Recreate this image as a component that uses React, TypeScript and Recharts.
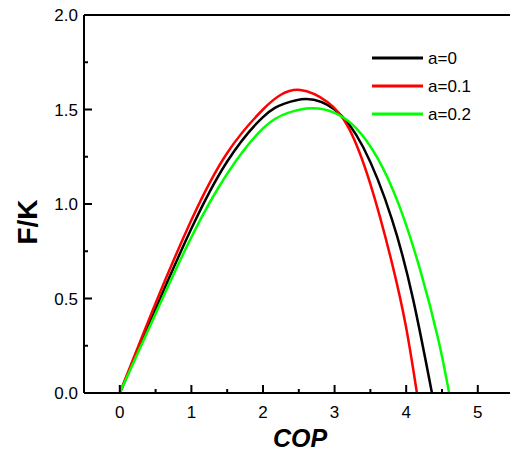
import React from "react";
import { LineChart, Line, XAxis, YAxis, ReferenceLine } from "recharts";

const copA0 = [0, 0.5, 1.0, 1.5, 2.0, 2.3, 2.61, 3.0, 3.4, 3.8, 4.1, 4.36];
const fkA0 = [0, 0.445, 0.87, 1.225, 1.46, 1.531, 1.556, 1.5, 1.3, 0.92, 0.49, 0];

const copA01 = [0, 0.5, 1.0, 1.5, 2.0, 2.25, 2.52, 2.9, 3.2, 3.5, 3.8, 4.0, 4.15];
const fkA01 = [0, 0.475, 0.915, 1.27, 1.5, 1.578, 1.603, 1.54, 1.4, 1.105, 0.69, 0.345, 0];

const copA02 = [0, 0.5, 1.0, 1.5, 2.0, 2.35, 2.68, 3.0, 3.3, 3.6, 3.9, 4.2, 4.45, 4.6];
const fkA02 = [0, 0.42, 0.825, 1.16, 1.4, 1.482, 1.506, 1.482, 1.402, 1.243, 0.994, 0.645, 0.28, 0];

const xTicks = [0, 0.5, 1, 1.5, 2, 2.5, 3, 3.5, 4, 4.5, 5];
const yTicks = [0, 0.25, 0.5, 0.75, 1, 1.25, 1.5, 1.75, 2];

const seriesNames = ["a=0", "a=0.1", "a=0.2"];
const seriesColors = ["#000000", "#ff0000", "#00ff00"];

const zip = (xs: number[], ys: number[]) => xs.map((x, i) => ({ x, y: ys[i] }));
const seriesData = [zip(copA0, fkA0), zip(copA01, fkA01), zip(copA02, fkA02)];

const FONT = "'Liberation Sans', Arial, sans-serif";

const XTick = (props: any) => {
  const { x, y, payload } = props;
  const v = payload.value as number;
  const major = Number.isInteger(v);
  return (
    <g>
      <line x1={x} y1={y} x2={x} y2={y - (major ? 8 : 4)} stroke="#000" strokeWidth={2} />
      {major && (
        <text x={x} y={y + 25} textAnchor="middle" fontSize={17} fontFamily={FONT} fill="#000">
          {v}
        </text>
      )}
    </g>
  );
};

const YTick = (props: any) => {
  const { x, y, payload } = props;
  const v = payload.value as number;
  const major = Math.abs(v * 2 - Math.round(v * 2)) < 1e-9;
  return (
    <g>
      <line x1={x} y1={y} x2={x + (major ? 8 : 4)} y2={y} stroke="#000" strokeWidth={2} />
      {major && (
        <text x={x - 6} y={y + 6} textAnchor="end" fontSize={17} fontFamily={FONT} fill="#000">
          {v.toFixed(1)}
        </text>
      )}
    </g>
  );
};

const XLabel = (props: any) => {
  const vb = props.viewBox || {};
  const cx = (vb.x || 0) + (vb.width || 0) / 2 + 3;
  const top = vb.y || 0;
  return (
    <text x={cx} y={top + 54} textAnchor="middle" fontSize={25} fontWeight="bold" fontStyle="italic" fontFamily={FONT} fill="#000">
      COP
    </text>
  );
};

const YLabel = (props: any) => {
  const vb = props.viewBox || {};
  const cy = (vb.y || 0) + (vb.height || 0) / 2 + 18;
  const bx = 37;
  return (
    <text x={bx} y={cy} transform={`rotate(-90, ${bx}, ${cy})`} textAnchor="middle" fontSize={28} fontWeight="bold" fontFamily={FONT} fill="#000">
      F/K
    </text>
  );
};

const LegendBox = () => (
  <svg
    width={140}
    height={90}
    style={{ position: "absolute", left: 372, top: 52, display: "block", overflow: "visible" }}
  >
    {seriesNames.map((n, i) => (
      <g key={n}>
        <line x1={0} y1={6 + i * 28} x2={51} y2={6 + i * 28} stroke={seriesColors[i]} strokeWidth={3} />
        <text x={56} y={12 + i * 28} fontSize={17} fontFamily={FONT} fill="#000">
          {n}
        </text>
      </g>
    ))}
  </svg>
);

export default function App() {
  return (
    <div style={{ position: "absolute", left: 0, top: 0, width: 510, height: 452 }}>
      <LineChart width={510} height={452} margin={{ top: 15, right: 0, bottom: 0, left: 0 }}>
        <XAxis
          type="number"
          dataKey="x"
          domain={[-0.5, 5.45]}
          allowDataOverflow
          ticks={xTicks}
          interval={0}
          height={59}
          tickSize={0}
          tickMargin={0}
          tickLine={false}
          tick={<XTick />}
          axisLine={{ stroke: "#000", strokeWidth: 2 }}
          label={<XLabel />}
        />
        <YAxis
          type="number"
          domain={[0, 2]}
          allowDataOverflow
          ticks={yTicks}
          interval={0}
          width={84}
          tickSize={0}
          tickMargin={0}
          tickLine={false}
          tick={<YTick />}
          axisLine={{ stroke: "#000", strokeWidth: 2 }}
          label={<YLabel />}
        />
        <ReferenceLine y={2} stroke="#000" strokeWidth={2} />
        {seriesData.map((d, i) => (
          <Line
            key={seriesNames[i]}
            data={d}
            dataKey="y"
            name={seriesNames[i]}
            type="natural"
            stroke={seriesColors[i]}
            strokeWidth={2.5}
            dot={false}
            isAnimationActive={false}
          />
        ))}
      </LineChart>
      <LegendBox />
    </div>
  );
}
